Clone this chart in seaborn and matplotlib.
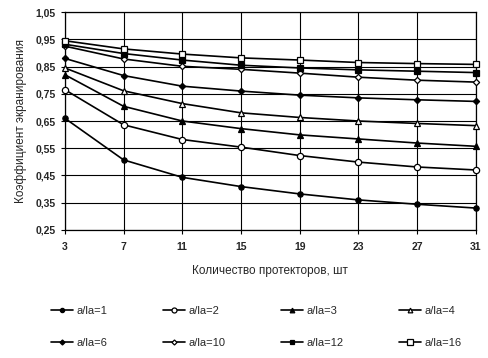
import pandas as pd
import matplotlib.pyplot as plt
import seaborn as sns
from matplotlib.ticker import FuncFormatter

# number of protectors
x_vals = [3, 7, 11, 15, 19, 23, 27, 31]

# screening coefficient for each a/la ratio
k_1 = [0.66, 0.507, 0.443, 0.409, 0.382, 0.36, 0.344, 0.33]
k_2 = [0.765, 0.636, 0.582, 0.554, 0.523, 0.499, 0.481, 0.47]
k_3 = [0.82, 0.704, 0.65, 0.622, 0.599, 0.584, 0.569, 0.557]
k_4 = [0.845, 0.761, 0.714, 0.68, 0.663, 0.65, 0.641, 0.633]
k_6 = [0.88, 0.817, 0.778, 0.76, 0.745, 0.735, 0.728, 0.722]
k_10 = [0.925, 0.878, 0.851, 0.84, 0.826, 0.811, 0.80, 0.793]
k_12 = [0.932, 0.898, 0.874, 0.855, 0.845, 0.838, 0.833, 0.828]
k_16 = [0.945, 0.915, 0.896, 0.882, 0.874, 0.865, 0.861, 0.858]

labels = ['a/la=1', 'a/la=2', 'a/la=3', 'a/la=4',
          'a/la=6', 'a/la=10', 'a/la=12', 'a/la=16']
series = [k_1, k_2, k_3, k_4, k_6, k_10, k_12, k_16]

rows = []
for lab, vals in zip(labels, series):
    for xv, yv in zip(x_vals, vals):
        rows.append({'n': xv, 'k': yv, 'ratio': lab})
df = pd.DataFrame(rows)

sns.set_style('white')
plt.rcParams['font.family'] = ['Liberation Sans', 'DejaVu Sans']

fig = plt.figure(figsize=(4.88, 3.58), dpi=100)
ax = fig.add_axes([0.133, 0.358, 0.842, 0.608])

markers = {'a/la=1': 'o', 'a/la=2': 'o', 'a/la=3': '^', 'a/la=4': '^',
           'a/la=6': 'D', 'a/la=10': 'D', 'a/la=12': 's', 'a/la=16': 's'}
sizes = {'a/la=1': 3.8, 'a/la=2': 4.5, 'a/la=3': 4.2, 'a/la=4': 4.2,
         'a/la=6': 3.2, 'a/la=10': 3.2, 'a/la=12': 4.2, 'a/la=16': 4.6}
filled = {'a/la=1': True, 'a/la=2': False, 'a/la=3': True, 'a/la=4': False,
          'a/la=6': True, 'a/la=10': False, 'a/la=12': True, 'a/la=16': False}

for lab in labels:
    sub = df[df['ratio'] == lab]
    sns.lineplot(data=sub, x='n', y='k', ax=ax, color='black', linewidth=1.2,
                 marker=markers[lab], markersize=sizes[lab],
                 markerfacecolor='black' if filled[lab] else 'white',
                 markeredgecolor='black', markeredgewidth=0.9,
                 label=lab, legend=False, clip_on=False, zorder=3)

ax.set_xlim(3, 31)
ax.set_ylim(0.25, 1.05)
ax.set_xticks(x_vals)
ax.set_yticks([0.25, 0.35, 0.45, 0.55, 0.65, 0.75, 0.85, 0.95, 1.05])
ax.yaxis.set_major_formatter(FuncFormatter(lambda v, p: f'{v:.2f}'.replace('.', ',')))
ax.grid(True, color='black', linewidth=0.8)
for s in ax.spines.values():
    s.set_color('black')
    s.set_linewidth(0.9)
ax.tick_params(axis='both', labelsize=7.5, length=3, color='black', direction='out',
               left=True, bottom=True)
ax.tick_params(axis='x', pad=6)
for t in ax.get_xticklabels() + ax.get_yticklabels():
    t.set_fontweight('bold')
ax.set_xlabel('Количество протекторов, шт', fontsize=8.5, labelpad=9)
ax.set_ylabel('Коэффициент экранирования', fontsize=8.5, labelpad=6)

# legend filled row by row: 1 2 3 4 / 6 10 12 16
handles, lbls = ax.get_legend_handles_labels()
order = [0, 4, 1, 5, 2, 6, 3, 7]
fig.legend([handles[i] for i in order], [lbls[i] for i in order],
           loc='center', bbox_to_anchor=(0.525, 0.087), ncol=4,
           frameon=False, fontsize=8, handlelength=2.0, handletextpad=0.3,
           columnspacing=5.0, labelspacing=2.0, markerscale=0.8)

fig.savefig('out.png', dpi=100)
